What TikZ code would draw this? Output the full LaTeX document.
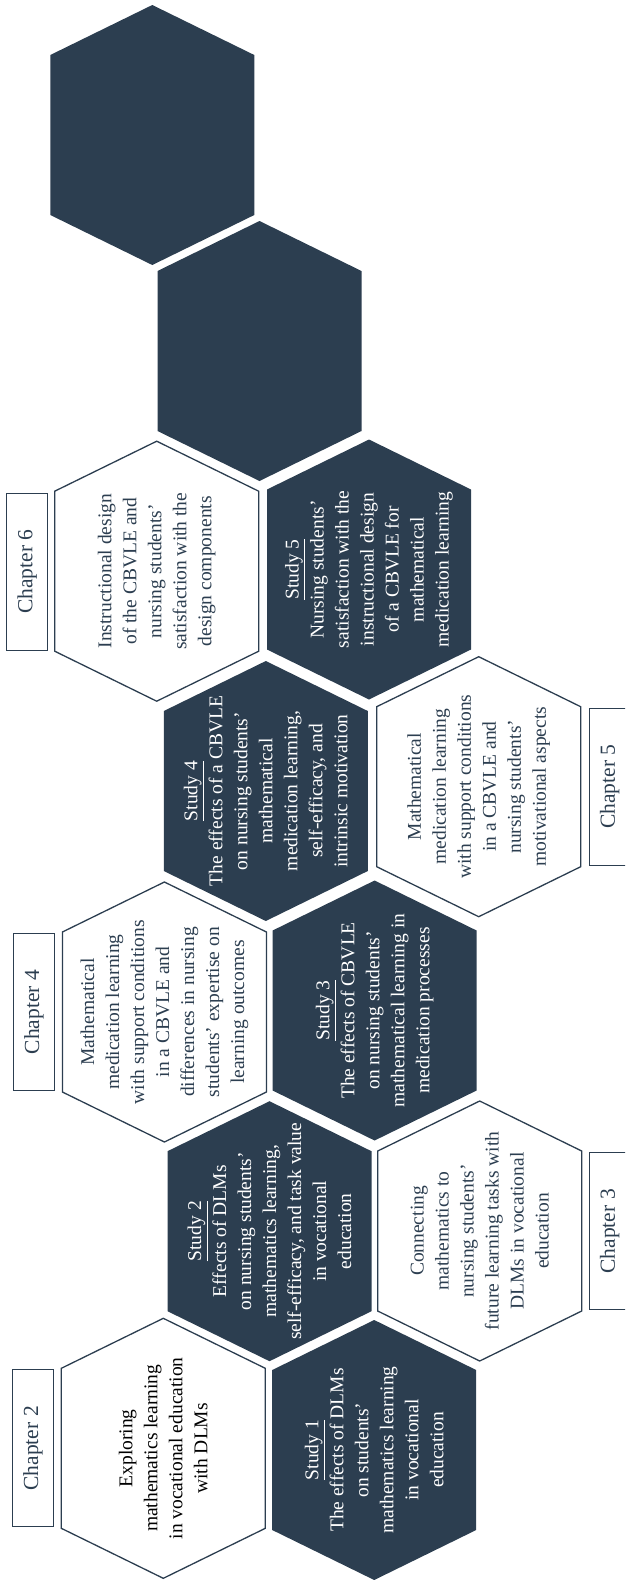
\documentclass[tikz,border=0pt]{standalone}
\usepackage{fontspec}
\setmainfont{Liberation Serif}
\definecolor{hexdark}{HTML}{2C3E50}
\newcommand{\hexshape}[2]{\path[#1] (#2) ++(0,-130) -- ++(102,50) -- ++(0,160) -- ++(-102,50) -- ++(-102,-50) -- ++(0,-160) -- cycle;}
\tikzset{
  darkhex/.style={fill=hexdark},
  lighthex/.style={fill=white, draw=hexdark, line width=1.3pt, line join=miter},
  bodytext/.style={rotate=90, align=center, inner sep=0pt, font=\fontsize{19.5}{25}\selectfont},
  darktext/.style={bodytext, text=white},
  lighttext/.style={bodytext, text=hexdark},
  chapbox/.style={rotate=90, draw=hexdark, line width=1.3pt, text=hexdark, minimum width=157pt, minimum height=41pt, inner sep=0pt, font=\fontsize{21.5}{25}\selectfont}
}
\begin{document}
\begin{tikzpicture}[x=1pt,y=-1pt]
\useasboundingbox (0,0) rectangle (625,1580);
\clip (0,0) rectangle (625,1580);
% hex centres
\coordinate (h1) at (152.3,135);
\coordinate (h2) at (259.5,351);
\coordinate (hc6) at (156.7,571.2);
\coordinate (hs5) at (369,569.5);
\coordinate (hs4) at (265.8,791);
\coordinate (hc5) at (478.7,786.7);
\coordinate (hc4) at (164.4,1012);
\coordinate (hs3) at (374.6,1010.5);
\coordinate (hs2) at (269.5,1231.2);
\coordinate (hc3) at (479.7,1231);
\coordinate (hc2) at (163.3,1448.3);
\coordinate (hs1) at (374.2,1450);
% hexagons
\hexshape{darkhex}{h1}
\hexshape{darkhex}{h2}
\hexshape{lighthex}{hc6}
\hexshape{darkhex}{hs5}
\hexshape{darkhex}{hs4}
\hexshape{lighthex}{hc5}
\hexshape{lighthex}{hc4}
\hexshape{darkhex}{hs3}
\hexshape{darkhex}{hs2}
\hexshape{lighthex}{hc3}
\hexshape{lighthex}{hc2}
\hexshape{darkhex}{hs1}
% texts
\node[lighttext] (c6) at (hc6) {Instructional design\\of the CBVLE and\\nursing students’\\satisfaction with the\\design components};
\node[darktext] (s5) at (hs5) {\underline{Study 5}\\Nursing students’\\satisfaction with the\\instructional design\\of a CBVLE for\\mathematical\\medication learning};
\node[darktext] (s4) at (hs4) {\underline{Study 4}\\The effects of a CBVLE\\on nursing students’\\mathematical\\medication learning,\\self-efficacy, and\\intrinsic motivation};
\node[lighttext] (c5) at (hc5) {Mathematical\\medication learning\\with support conditions\\in a CBVLE and\\nursing students’\\motivational aspects};
\node[lighttext] (c4) at (hc4) {Mathematical\\medication learning\\with support conditions\\in a CBVLE and\\differences in nursing\\students’ expertise on\\learning outcomes};
\node[darktext] (s3) at (hs3) {\underline{Study 3}\\The effects of CBVLE\\on nursing students’\\mathematical learning in\\medication processes};
\node[darktext] (s2) at (hs2) {\underline{Study 2}\\Effects of DLMs\\on nursing students’\\mathematics learning,\\self-efficacy, and task value\\in vocational\\education};
\node[lighttext] (c3) at (hc3) {Connecting\\mathematics to\\nursing students’\\future learning tasks with\\DLMs in vocational\\education};
\node[lighttext, text=black] (c2) at (hc2) {Exploring\\mathematics learning\\in vocational education\\with DLMs};
\node[darktext] (s1) at (hs1) {\underline{Study 1}\\The effects of DLMs\\on students’\\mathematics learning\\in vocational\\education};
% chapter labels
\node[chapbox] (ch6) at (27.2,571.7) {Chapter 6};
\node[chapbox] (ch4) at (33.9,1012) {Chapter 4};
\node[chapbox] (ch2) at (33,1448.3) {Chapter 2};
\node[chapbox] (ch5) at (609.8,786.7) {Chapter 5};
\node[chapbox] (ch3) at (609.8,1231.3) {Chapter 3};
\end{tikzpicture}
\end{document}
